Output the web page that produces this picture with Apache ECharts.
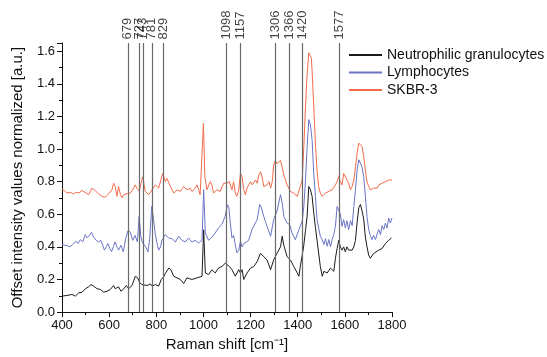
<!DOCTYPE html>
<html>
<head>
<meta charset="utf-8">
<script src="https://cdn.jsdelivr.net/npm/echarts@6/dist/echarts.min.js"></script>
<style>
  html, body { margin: 0; padding: 0; background: #fff; }
  #chart { width: 547px; height: 357px; }
</style>
</head>
<body>
<div id="chart"></div>
<script>
// peak positions marked with vertical lines
const peakPos = [679, 727, 743, 781, 829, 1098, 1157, 1306, 1366, 1420, 1577];

// Neutrophilic granulocytes
const neutroX = [400,421,442,457,471,485,499,513,523,534,549,563,577,591,605,619,626,640,650,662,673,683,697,711,721,730,739,747,761,775,782,796,810,821,831,838,846,853,862,874,888,902,916,930,951,973,994,1001,1008,1022,1036,1050,1064,1079,1093,1100,1110,1121,1135,1150,1157,1164,1171,1185,1200,1214,1228,1242,1249,1256,1270,1285,1298,1312,1327,1334,1341,1355,1369,1383,1398,1405,1411,1425,1433,1440,1447,1454,1461,1468,1475,1482,1496,1504,1511,1525,1539,1553,1560,1567,1574,1581,1588,1595,1602,1609,1616,1624,1631,1638,1645,1652,1659,1666,1673,1680,1687,1694,1701,1708,1715,1722,1730,1744,1758,1772,1786,1798];
const neutroY = [0.098,0.102,0.108,0.098,0.118,0.122,0.143,0.155,0.169,0.159,0.143,0.139,0.122,0.128,0.139,0.163,0.143,0.155,0.128,0.143,0.163,0.143,0.163,0.22,0.21,0.18,0.169,0.18,0.163,0.173,0.159,0.169,0.159,0.2,0.216,0.236,0.24,0.27,0.26,0.22,0.21,0.2,0.175,0.21,0.2,0.21,0.22,0.505,0.24,0.23,0.26,0.24,0.27,0.28,0.3,0.31,0.28,0.26,0.22,0.26,0.24,0.26,0.2,0.24,0.27,0.28,0.31,0.36,0.37,0.34,0.32,0.26,0.32,0.36,0.40,0.465,0.41,0.34,0.32,0.28,0.24,0.22,0.28,0.40,0.50,0.59,0.77,0.75,0.71,0.61,0.52,0.44,0.28,0.22,0.25,0.24,0.27,0.25,0.33,0.39,0.44,0.40,0.38,0.40,0.37,0.40,0.38,0.39,0.38,0.40,0.44,0.55,0.64,0.66,0.62,0.57,0.46,0.40,0.35,0.33,0.34,0.36,0.35,0.38,0.39,0.42,0.44,0.455];

// Lymphocytes
const lymphX = [400,410,421,435,445,452,460,468,478,488,499,507,516,525,534,545,555,565,580,588,595,603,610,618,625,633,640,650,660,670,680,690,700,710,720,727,734,740,748,755,765,772,781,788,796,805,810,818,824,838,852,867,881,895,909,923,937,951,965,979,994,1001,1008,1022,1036,1050,1064,1078,1092,1102,1108,1114,1121,1128,1135,1142,1150,1157,1164,1171,1178,1192,1206,1214,1228,1239,1246,1256,1263,1270,1278,1285,1298,1312,1327,1334,1341,1355,1366,1376,1390,1405,1419,1426,1433,1440,1447,1454,1461,1468,1475,1482,1496,1504,1511,1518,1525,1532,1539,1546,1553,1560,1567,1574,1581,1588,1595,1602,1609,1616,1624,1631,1638,1645,1652,1659,1666,1673,1680,1687,1694,1701,1708,1715,1722,1730,1737,1744,1751,1758,1765,1772,1779,1786,1793,1800];
const lymphY = [0.414,0.41,0.408,0.40,0.415,0.424,0.434,0.42,0.444,0.43,0.475,0.455,0.47,0.49,0.46,0.44,0.43,0.44,0.38,0.40,0.42,0.39,0.37,0.40,0.43,0.40,0.38,0.41,0.37,0.45,0.50,0.49,0.44,0.47,0.43,0.587,0.47,0.43,0.42,0.40,0.37,0.45,0.65,0.57,0.475,0.41,0.38,0.40,0.44,0.475,0.455,0.45,0.43,0.465,0.44,0.43,0.455,0.43,0.44,0.424,0.44,0.75,0.485,0.44,0.46,0.485,0.516,0.536,0.587,0.658,0.64,0.546,0.455,0.47,0.414,0.363,0.38,0.434,0.40,0.42,0.424,0.44,0.506,0.505,0.567,0.66,0.64,0.587,0.555,0.526,0.535,0.465,0.567,0.618,0.72,0.67,0.587,0.546,0.536,0.485,0.444,0.505,0.557,0.648,0.81,1.015,1.18,1.148,1.056,0.852,0.71,0.567,0.465,0.444,0.414,0.45,0.404,0.445,0.40,0.444,0.475,0.526,0.648,0.658,0.60,0.526,0.567,0.516,0.56,0.506,0.56,0.53,0.648,0.75,0.873,0.934,0.944,0.89,0.83,0.71,0.587,0.506,0.47,0.444,0.47,0.444,0.48,0.506,0.475,0.53,0.506,0.546,0.515,0.577,0.546,0.577];

// SKBR-3
const skbrX = [400,410,421,435,449,460,472,485,492,502,513,527,541,555,570,584,598,612,619,626,633,640,648,655,662,676,690,704,711,718,728,735,743,753,768,782,796,810,818,827,832,838,845,853,860,867,874,888,902,916,930,944,951,965,973,980,986,994,1000,1006,1015,1022,1029,1036,1043,1057,1071,1086,1093,1100,1110,1121,1128,1135,1142,1150,1157,1164,1171,1178,1185,1192,1200,1207,1214,1221,1228,1235,1242,1249,1256,1270,1278,1285,1292,1298,1305,1312,1320,1327,1334,1341,1355,1362,1369,1376,1383,1390,1398,1405,1411,1419,1426,1433,1440,1447,1454,1458,1461,1468,1475,1482,1489,1496,1504,1511,1518,1525,1532,1539,1546,1553,1560,1567,1574,1581,1588,1595,1602,1609,1616,1624,1631,1638,1645,1652,1659,1666,1673,1680,1687,1694,1701,1708,1715,1722,1730,1737,1744,1751,1758,1765,1772,1779,1786,1793,1800];
const skbrY = [0.754,0.746,0.73,0.735,0.724,0.735,0.73,0.746,0.754,0.73,0.72,0.76,0.745,0.725,0.71,0.705,0.725,0.75,0.79,0.77,0.71,0.77,0.72,0.70,0.72,0.726,0.73,0.76,0.78,0.76,0.74,0.79,0.83,0.74,0.72,0.75,0.78,0.76,0.77,0.85,0.83,0.80,0.82,0.81,0.77,0.75,0.73,0.75,0.74,0.77,0.75,0.76,0.74,0.76,0.78,0.75,0.72,0.73,1.158,0.83,0.75,0.76,0.80,0.78,0.73,0.75,0.74,0.79,0.80,0.79,0.80,0.75,0.80,0.73,0.71,0.75,0.85,0.83,0.75,0.72,0.76,0.78,0.80,0.78,0.77,0.81,0.79,0.84,0.86,0.83,0.77,0.78,0.80,0.76,0.80,0.90,0.93,0.91,0.90,0.93,0.89,0.84,0.78,0.77,0.74,0.75,0.73,0.74,0.71,0.70,0.77,0.81,1.015,1.26,1.46,1.59,1.586,1.556,1.48,1.26,1.036,0.87,0.77,0.73,0.71,0.72,0.73,0.72,0.74,0.74,0.75,0.76,0.78,0.80,0.83,0.80,0.78,0.85,0.86,0.81,0.79,0.75,0.77,0.81,0.89,0.975,1.036,1.046,1.015,0.954,0.87,0.80,0.77,0.75,0.74,0.76,0.77,0.76,0.78,0.77,0.79,0.78,0.80,0.79,0.81,0.80,0.81];

const zip = (xs, ys) => xs.map((x, i) => [x, ys[i]]);

const axisColor = '#111';
const fontFamily = '"Liberation Sans", Arial, sans-serif';

const chart = echarts.init(document.getElementById('chart'));

const lineSeries = (name, xs, ys, color) => ({
  name: name,
  type: 'line',
  data: zip(xs, ys),
  symbol: 'none',
  showSymbol: false,
  lineStyle: { color: color, width: 1 },
  itemStyle: { color: color },
  z: 2
});

chart.setOption({
  animation: false,
  textStyle: { fontFamily: fontFamily },
  grid: { left: 62, right: 155, top: 43, bottom: 44 },
  legend: {
    data: ['Neutrophilic granulocytes', 'Lymphocytes', 'SKBR-3'],
    orient: 'vertical',
    left: 343,
    top: 43,
    itemWidth: 33,
    itemHeight: 14,
    itemGap: 3.5,
    itemStyle: { opacity: 0 },
    textStyle: { fontSize: 14, color: '#111', fontFamily: fontFamily }
  },
  xAxis: {
    type: 'value',
    min: 400,
    max: 1800,
    interval: 200,
    name: 'Raman shift [cm\u207B\u00B9]',
    nameLocation: 'middle',
    nameGap: 24,
    nameTextStyle: { fontSize: 15, color: axisColor },
    axisLine: { lineStyle: { color: axisColor, width: 1 } },
    axisTick: { length: 5, lineStyle: { color: axisColor } },
    minorTick: { show: true, splitNumber: 2, length: 3, lineStyle: { color: axisColor } },
    splitLine: { show: false },
    axisLabel: { fontSize: 13, color: axisColor, margin: 7, formatter: v => String(v) }
  },
  yAxis: {
    type: 'value',
    min: 0,
    max: 1.65,
    interval: 0.2,
    name: 'Offset intensity values normalized [a.u.]',
    nameLocation: 'middle',
    nameGap: 37,
    nameTextStyle: { fontSize: 15, color: axisColor },
    axisLine: { show: true, lineStyle: { color: axisColor, width: 1 } },
    axisTick: { show: true, length: 5, lineStyle: { color: axisColor } },
    minorTick: { show: true, splitNumber: 2, length: 3, lineStyle: { color: axisColor } },
    splitLine: { show: false },
    axisLabel: {
      fontSize: 13,
      color: axisColor,
      margin: 7,
      formatter: v => (Math.abs(v * 5 - Math.round(v * 5)) < 1e-6 ? v.toFixed(1) : '')
    }
  },
  series: [
    lineSeries('Neutrophilic granulocytes', neutroX, neutroY, '#1a1a1a'),
    lineSeries('Lymphocytes', lymphX, lymphY, '#6b74c8'),
    lineSeries('SKBR-3', skbrX, skbrY, '#f36b4b'),
    {
      name: 'peaks',
      type: 'scatter',
      data: peakPos.map(p => [p, 1.65]),
      symbolSize: 1,
      itemStyle: { color: 'rgba(0,0,0,0)' },
      z: 5,
      label: {
        show: true,
        position: 'top',
        distance: 3,
        rotate: 90,
        align: 'left',
        verticalAlign: 'middle',
        fontSize: 13,
        color: '#111',
        formatter: p => String(p.value[0])
      },
      markLine: {
        silent: true,
        symbol: ['none', 'none'],
        label: { show: false },
        lineStyle: { color: '#6a6a6a', width: 1.2, type: 'solid' },
        data: peakPos.map(p => ({ xAxis: p }))
      }
    }
  ]
});
</script>
</body>
</html>
